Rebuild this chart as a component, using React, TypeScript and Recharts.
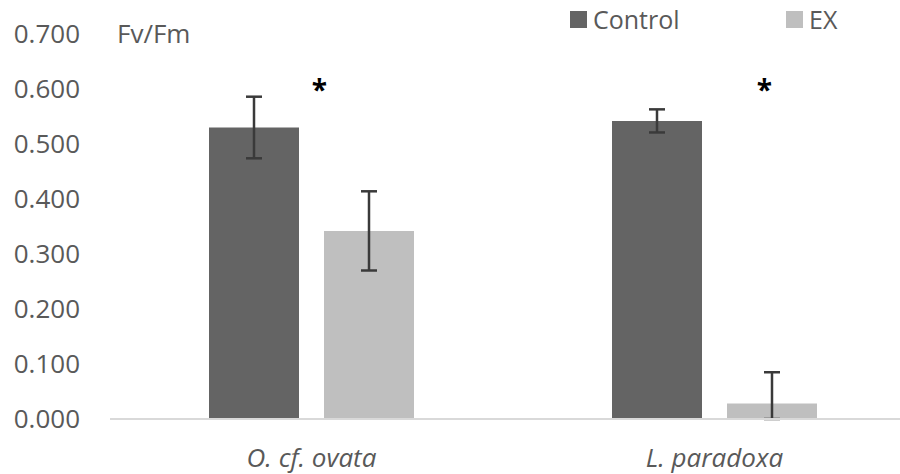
import { BarChart, Bar, XAxis, YAxis, ErrorBar, ReferenceDot, Label } from "recharts"

const species = ["O. cf. ovata", "L. paradoxa"]
const control = [0.53, 0.542]
const controlErr = [0.056, 0.021]
const ex = [0.342, 0.028]
const exErr = [
  [0.072, 0.072],
  [0.028, 0.057],
]
const yTicks = [0, 0.1, 0.2, 0.3, 0.4, 0.5, 0.6, 0.7]
const significant = [
  { species: "O. cf. ovata", y: 0.598, dx: 8 },
  { species: "L. paradoxa", y: 0.598, dx: 50 },
]

const data = species.map((s, i) => ({
  species: s,
  control: control[i],
  controlErr: controlErr[i],
  ex: ex[i],
  exErr: exErr[i],
}))

const font = "'Open Sans', sans-serif"
const textColor = "#595959"

function LegendBox() {
  const items = [
    { name: "Control", color: "#646464", left: 570 },
    { name: "EX", color: "#bfbfbf", left: 786 },
  ]
  return (
    <>
      {items.map((it) => (
        <div
          key={it.name}
          style={{ position: "absolute", left: it.left, top: 2, display: "flex", alignItems: "center", fontFamily: font, fontSize: 25, color: textColor }}
        >
          <span style={{ width: 17, height: 17, background: it.color, marginRight: 6, display: "inline-block" }} />
          {it.name}
        </div>
      ))}
    </>
  )
}

export default function App() {
  return (
    <div style={{ position: "absolute", left: 0, top: 0, width: 900, height: 474, overflow: "hidden", background: "#fff" }}>
      <BarChart
        width={920}
        height={474}
        data={data}
        margin={{ top: 34, right: 4, bottom: 0, left: 0 }}
        barSize={90}
        barGap={25}
      >
        <XAxis
          dataKey="species"
          height={55}
          tickLine={false}
          tickSize={0}
          tickMargin={30}
          axisLine={{ stroke: "#d9d9d9", strokeWidth: 2 }}
          tick={{ fill: textColor, fontSize: 26, fontFamily: font, fontStyle: "italic" }}
        />
        <YAxis
          width={110}
          domain={[0, 0.7]}
          ticks={yTicks}
          tickFormatter={(v: number) => v.toFixed(3)}
          axisLine={false}
          tickLine={false}
          tickSize={0}
          tickMargin={30}
          tick={{ fill: textColor, fontSize: 26, fontFamily: font }}
        >
          <Label
            content={() => (
              <text x={117} y={43} fill={textColor} fontSize={26} fontFamily={font}>
                Fv/Fm
              </text>
            )}
          />
        </YAxis>
        <Bar dataKey="control" name="Control" fill="#646464" isAnimationActive={false}>
          <ErrorBar dataKey="controlErr" width={8} stroke="#3a3a3a" strokeWidth={2.5} />
        </Bar>
        <Bar dataKey="ex" name="EX" fill="#bfbfbf" isAnimationActive={false}>
          <ErrorBar dataKey="exErr" width={8} stroke="#3a3a3a" strokeWidth={2.5} />
        </Bar>
        {significant.map((s) => (
          <ReferenceDot key={s.species} x={s.species} y={s.y} r={0} fill="none" stroke="none">
            <Label
              content={(props: any) => {
                const vb = props.viewBox || {}
                const cx = (vb.x ?? 0) + (vb.width ?? 0) / 2
                const cy = (vb.y ?? 0) + (vb.height ?? 0) / 2
                return (
                  <text x={cx + s.dx} y={cy + 10} textAnchor="middle" fill="#000" fontSize={28} fontWeight="bold" fontFamily={font}>
                    *
                  </text>
                )
              }}
            />
          </ReferenceDot>
        ))}
      </BarChart>
      <LegendBox />
    </div>
  )
}
